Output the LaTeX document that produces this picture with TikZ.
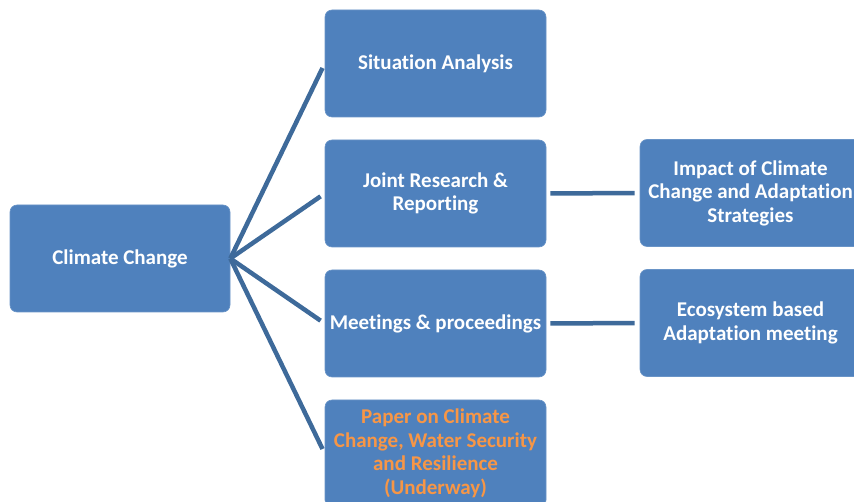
\documentclass[tikz,border=0pt]{standalone}
\usepackage{fontspec}
\setmainfont[RawFeature={-liga;-clig;-calt;-dlig;-rlig}]{Carlito}
\definecolor{boxblue}{HTML}{4F81BD}
\definecolor{lineblue}{HTML}{3E6A9A}
\definecolor{orangetxt}{HTML}{F79646}
\begin{document}
\begin{tikzpicture}[x=1pt,y=-1pt,
  box/.style={draw=boxblue!85!white, line width=0.6pt, fill=boxblue, rounded corners=7pt,
    minimum width=221pt, minimum height=107pt, inner sep=0pt, align=center,
    text=white, font=\fontsize{21}{23.5}\selectfont\bfseries},
  link/.style={draw=lineblue, line width=4.5pt}]
\useasboundingbox (0,0) rectangle (854,502);
\clip (0,0) rectangle (854,502);
\node[box, minimum width=220pt, minimum height=107pt] (cc) at (120,258.5) {Climate Change};
\node[box] (sa) at (435.5,63.5) {Situation Analysis};
\node[box] (jr) at (435.5,193.5) {Joint Research \&\\Reporting};
\node[box] (mp) at (435.5,323.5) {Meetings \& proceedings};
\node[box, text=orangetxt] (pc) at (435.5,453.5) {Paper on Climate\\Change, Water Security\\and Resilience\\(Underway)};
\node[box] (ic) at (750.5,193) {Impact of Climate\\Change and Adaptation\\Strategies};
\node[box] (eb) at (750.5,323) {Ecosystem based\\Adaptation meeting};
\draw[link, shorten >=5pt] (cc.east) -- (sa.west);
\draw[link, shorten >=5pt] (cc.east) -- (jr.west);
\draw[link, shorten >=5pt] (cc.east) -- (mp.west);
\draw[link, shorten >=5pt] (cc.east) -- (pc.west);
\draw[link, shorten >=5pt, shorten <=4pt] (jr.east) -- (ic.west);
\draw[link, shorten >=5pt, shorten <=4pt] (mp.east) -- (eb.west);
\end{tikzpicture}
\end{document}
